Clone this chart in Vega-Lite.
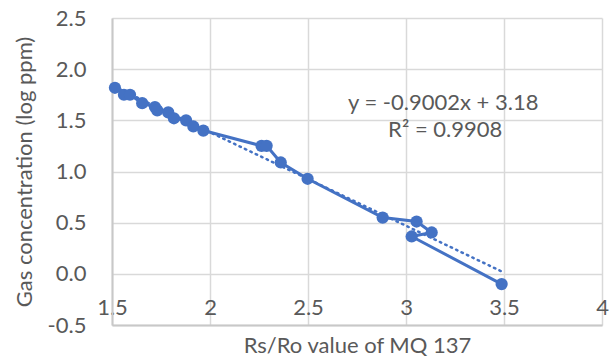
{
  "$schema": "https://vega.github.io/schema/vega-lite/v6.json",
  "width": 490,
  "height": 307,
  "autosize": {"type": "none"},
  "padding": {"left": 112, "top": 18, "right": 12, "bottom": 36},
  "config": {
    "view": {"stroke": null},
    "font": "Lato",
    "axis": {
      "labelFont": "Lato",
      "titleFont": "Lato",
      "labelFontSize": 22,
      "titleFontSize": 22,
      "labelColor": "#595959",
      "titleColor": "#595959",
      "titleFontWeight": "normal",
      "gridColor": "#d9d9d9",
      "gridWidth": 1.5,
      "domainColor": "#c8c8c8",
      "domainWidth": 2,
      "ticks": false,
      "labelFlush": false
    }
  },
  "datasets": {
    "obs": [
      {"idx": 1, "rs_ro": 1.515, "gas": 1.818},
      {"idx": 2, "rs_ro": 1.561, "gas": 1.75},
      {"idx": 3, "rs_ro": 1.592, "gas": 1.75},
      {"idx": 4, "rs_ro": 1.654, "gas": 1.668},
      {"idx": 5, "rs_ro": 1.719, "gas": 1.63},
      {"idx": 6, "rs_ro": 1.731, "gas": 1.597},
      {"idx": 7, "rs_ro": 1.787, "gas": 1.577},
      {"idx": 8, "rs_ro": 1.816, "gas": 1.52},
      {"idx": 9, "rs_ro": 1.878, "gas": 1.5},
      {"idx": 10, "rs_ro": 1.915, "gas": 1.44},
      {"idx": 11, "rs_ro": 1.966, "gas": 1.4},
      {"idx": 12, "rs_ro": 2.263, "gas": 1.251},
      {"idx": 13, "rs_ro": 2.289, "gas": 1.251},
      {"idx": 14, "rs_ro": 2.361, "gas": 1.088},
      {"idx": 15, "rs_ro": 2.498, "gas": 0.929},
      {"idx": 16, "rs_ro": 2.881, "gas": 0.55},
      {"idx": 17, "rs_ro": 3.054, "gas": 0.511},
      {"idx": 18, "rs_ro": 3.131, "gas": 0.404},
      {"idx": 19, "rs_ro": 3.029, "gas": 0.365},
      {"idx": 20, "rs_ro": 3.488, "gas": -0.1}
    ],
    "labels": [
      {"rs_ro": 3.19, "gas": 1.67, "text": "y = -0.9002x + 3.18"},
      {"rs_ro": 3.2, "gas": 1.41, "text": "R² = 0.9908"}
    ]
  },
  "encoding": {
    "x": {
      "field": "rs_ro",
      "type": "quantitative",
      "scale": {"domain": [1.5, 4], "nice": false, "zero": false},
      "axis": {
        "title": "Rs/Ro value of MQ 137",
        "values": [1.5, 2, 2.5, 3, 3.5, 4],
        "format": "~g",
        "labelBaseline": "middle",
        "labelPadding": -18,
        "titleY": 20,
        "titleBaseline": "middle"
      }
    },
    "y": {
      "field": "gas",
      "type": "quantitative",
      "scale": {"domain": [-0.5, 2.5], "nice": false, "zero": false},
      "axis": {
        "title": "Gas concentration (log ppm)",
        "values": [-0.5, 0, 0.5, 1, 1.5, 2, 2.5],
        "labelExpr": "replace(format(datum.value, '.1f'), '−', '-')",
        "labelPadding": 26,
        "titleX": -88,
        "titleBaseline": "middle"
      }
    }
  },
  "layer": [
    {
      "data": {"name": "obs"},
      "transform": [{"regression": "gas", "on": "rs_ro", "method": "linear"}],
      "mark": {"type": "line", "color": "#4472C4", "strokeWidth": 2.5, "strokeDash": [1.5, 4.5], "strokeCap": "round"}
    },
    {
      "data": {"name": "obs"},
      "mark": {"type": "line", "color": "#4472C4", "strokeWidth": 3},
      "encoding": {"order": {"field": "idx", "type": "quantitative"}}
    },
    {
      "data": {"name": "obs"},
      "mark": {"type": "point", "filled": true, "color": "#4472C4", "opacity": 1, "size": 150}
    },
    {
      "data": {"name": "labels"},
      "mark": {"type": "text", "font": "Lato", "fontSize": 22, "color": "#595959", "align": "center", "baseline": "middle"},
      "encoding": {"text": {"field": "text"}}
    }
  ]
}
